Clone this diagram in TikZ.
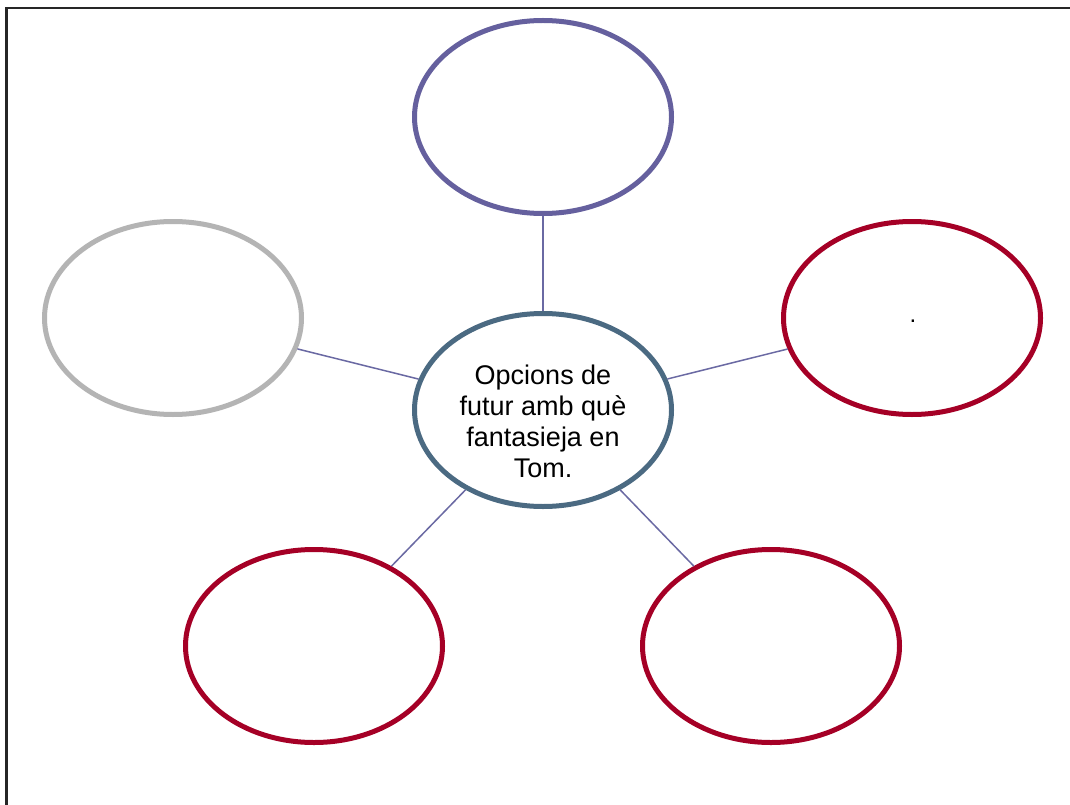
\documentclass[tikz,border=0pt]{standalone}
\usepackage{fontspec}
\setmainfont{Liberation Sans}
\usetikzlibrary{shapes.geometric}
\definecolor{topcol}{RGB}{101,96,158}
\definecolor{midcol}{RGB}{75,106,130}
\definecolor{redcol}{RGB}{165,0,38}
\definecolor{graycol}{RGB}{180,180,180}
\definecolor{linkcol}{RGB}{106,105,163}
\tikzset{
  bubble/.style={ellipse, line width=5pt, minimum width=257pt, minimum height=193pt, inner sep=0pt},
  bubbletext/.style={align=center, inner sep=0pt, font=\fontsize{27}{31}\selectfont},
  link/.style={draw=linkcol, line width=1.5pt},
}
\begin{document}
\begin{tikzpicture}[x=1pt,y=-1pt]
\useasboundingbox (0,0) rectangle (1070,805);
\clip (0,0) rectangle (1070,805);
\fill[white] (0,0) rectangle (1070,805);
\draw[line width=2.5pt, black!85] (6.5,820) -- (6.5,8) -- (1080,8);
\node[bubble, draw=topcol] (top) at (543,117) {};
\node[bubble, draw=graycol] (left) at (173,318) {};
\node[bubble, draw=redcol] (right) at (912,318) {};
\node[bubbletext, anchor=base, font=\fontsize{24}{28}\selectfont] (righttext) at (913,322) {.};
\node[bubble, draw=redcol] (bl) at (314,646) {};
\node[bubble, draw=redcol] (br) at (771,646) {};
\node[bubble, draw=midcol] (mid) at (543,410) {};
\node[bubbletext] (midtext) at (543,421) {Opcions de\\futur amb què\\fantasieja en\\Tom.};
\draw[link] (mid) -- (top);
\draw[link] (mid) -- (left);
\draw[link] (mid) -- (right);
\draw[link] (mid) -- (bl);
\draw[link] (mid) -- (br);
\end{tikzpicture}
\end{document}
